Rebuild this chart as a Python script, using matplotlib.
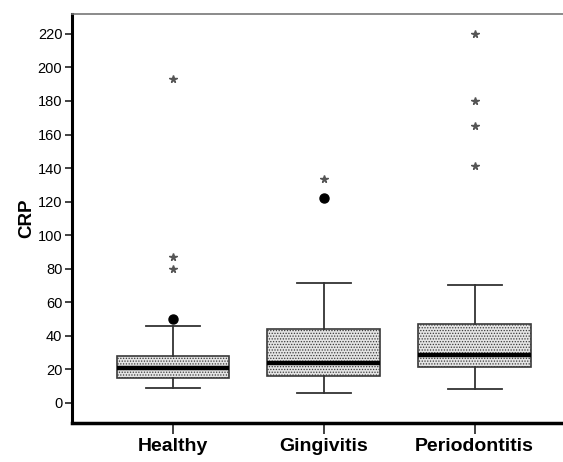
import matplotlib
matplotlib.use("Agg")
import matplotlib.pyplot as plt

plt.rcParams['font.family'] = ['Liberation Sans', 'DejaVu Sans']
plt.rcParams['hatch.color'] = '#8c8c8c'
plt.rcParams['hatch.linewidth'] = 0.6

groups = ["Healthy", "Gingivitis", "Periodontitis"]
q1 = [14.7, 15.7, 21.5]
medians = [20.5, 23.5, 28.3]
q3 = [27.9, 43.8, 47.1]
whisker_lo = [9.0, 5.8, 8.2]
whisker_hi = [45.8, 71.4, 70.2]

# outliers (circles) and extreme values (stars)
circle_x = [1, 2]
circle_y = [49.8, 122.3]
star_x = [1, 1, 1, 2, 3, 3, 3, 3]
star_y = [193.1, 87.1, 80.0, 133.7, 220.0, 180.0, 165.3, 141.4]

yticks = list(range(0, 221, 20))

fig = plt.figure(figsize=(5.63, 4.62), dpi=100)
ax = fig.add_axes([0.128, 0.0844, 0.872, 0.8853])

stats = []
for i, name in enumerate(groups):
    stats.append({"label": name, "q1": q1[i], "med": medians[i], "q3": q3[i],
                  "whislo": whisker_lo[i], "whishi": whisker_hi[i], "fliers": []})

positions = [1, 2, 3]
bp = ax.bxp(stats, positions=positions, widths=0.745, patch_artist=True,
            showfliers=False,
            boxprops=dict(facecolor='#e4e4e4', edgecolor='#3a3a3a', linewidth=1.2, hatch='......'),
            medianprops=dict(color='black', linewidth=3.2, solid_capstyle='butt'),
            whiskerprops=dict(color='#333333', linewidth=1.3),
            capprops=dict(color='#333333', linewidth=1.3),
            capwidths=0.36)

ax.plot(circle_x, circle_y, 'o', color='black', markersize=6.5, linestyle='none')
ax.plot(star_x, star_y, '*', color='#555555', markersize=5.5, linestyle='none')

ax.set_xlim(0.333, 3.585)
ax.set_ylim(-12.1, 231.9)
ax.set_xticks(positions)
ax.set_xticklabels(groups, fontsize=14, fontweight='bold')
ax.set_yticks(yticks)
ax.set_yticklabels([str(v) for v in yticks], fontsize=10.5)
ax.set_ylabel("CRP", fontsize=13.5, fontweight='bold', labelpad=2)

ax.spines['right'].set_visible(False)
ax.spines['top'].set_color('#777777')
ax.spines['top'].set_linewidth(1.2)
ax.spines['left'].set_linewidth(2.2)
ax.spines['bottom'].set_linewidth(2.5)
ax.tick_params(axis='x', length=8, width=1.3, color='#333333', pad=3)
ax.tick_params(axis='y', length=5, width=1.3, color='#333333', pad=2)

fig.savefig("out.png", dpi=100)
